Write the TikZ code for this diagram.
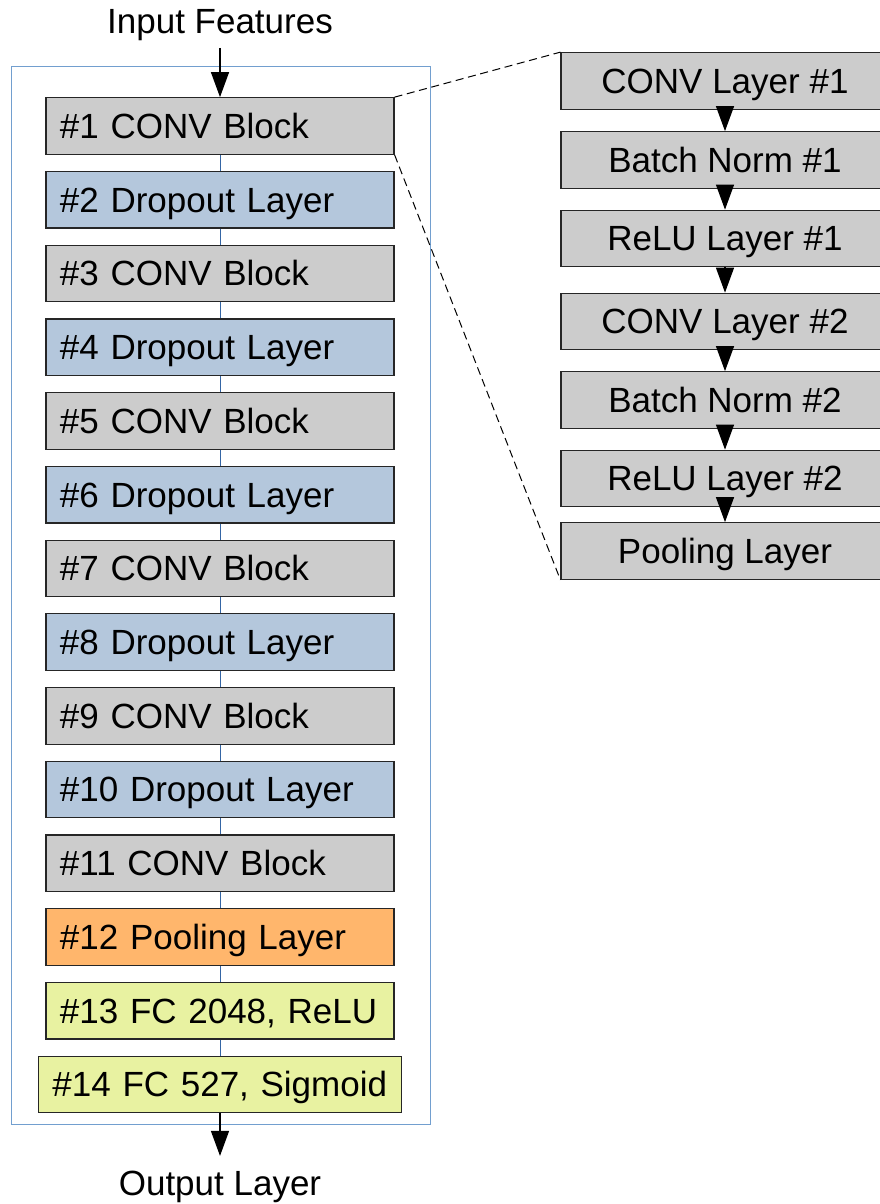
\documentclass[tikz,border=0pt]{standalone}
\usepackage{fontspec}
\setmainfont{Liberation Sans}
\usetikzlibrary{positioning,arrows.meta}
\definecolor{convgray}{HTML}{CCCCCC}
\definecolor{dropblue}{HTML}{B4C7DC}
\definecolor{poolorange}{HTML}{FFB66C}
\definecolor{fcgreen}{HTML}{E8F2A1}
\definecolor{frameblue}{HTML}{729FCF}
\definecolor{linkblue}{HTML}{3465A4}
\tikzset{
    txt/.style={font=\fontsize{26.25}{30}\selectfont},
    layer/.style={txt,draw=black!85,line width=0.9pt,minimum height=42.4pt,text width=240pt,
        inner xsep=10.5pt,inner ysep=2pt,align=left,text height=25.5pt,text depth=7pt},
    conv/.style={layer,fill=convgray},
    drop/.style={layer,fill=dropblue},
    pool/.style={layer,fill=poolorange},
    fc/.style={layer,fill=fcgreen},
    sub/.style={txt,draw=black!85,line width=0.9pt,fill=convgray,minimum height=42.4pt,minimum width=246pt,
        inner ysep=2pt,text height=25.5pt,text depth=7pt},
    arr/.style={-{Triangle[length=18.75pt,width=13.5pt]},line width=0.9pt},
    link/.style={linkblue,line width=0.75pt},
}

\begin{document}
\begin{tikzpicture}[x=0.75pt,y=-0.75pt,node distance=12pt]
        \useasboundingbox (0,0) rectangle (880,1204);
        \node[draw=frameblue,line width=0.75pt,minimum width=314.25pt,minimum height=793.5pt] (net) at (220.5,595) {};
        \node[txt,inner sep=0pt,anchor=base] (feat) at (220,33) {Input Features};
        \node[conv] (b1) at (220,126) {\#1 CONV Block};
        \node[drop,below=of b1] (b2) {\#2 Dropout Layer};
        \node[conv,below=of b2] (b3) {\#3 CONV Block};
        \node[drop,below=of b3] (b4) {\#4 Dropout Layer};
        \node[conv,below=of b4] (b5) {\#5 CONV Block};
        \node[drop,below=of b5] (b6) {\#6 Dropout Layer};
        \node[conv,below=of b6] (b7) {\#7 CONV Block};
        \node[drop,below=of b7] (b8) {\#8 Dropout Layer};
        \node[conv,below=of b8] (b9) {\#9 CONV Block};
        \node[drop,below=of b9] (b10) {\#10 Dropout Layer};
        \node[conv,below=of b10] (b11) {\#11 CONV Block};
        \node[pool,below=of b11] (b12) {\#12 Pooling Layer};
        \node[fc,below=of b12] (b13) {\#13 FC 2048, ReLU};
        \node[fc,text width=251.25pt,below=of b13] (b14) {\#14 FC 527, Sigmoid};
        \node[txt,inner sep=0pt,anchor=base] (outp) at (220,1195) {Output Layer};
        \node[sub] (r1) at (725,81) {CONV Layer \#1};
        \node[sub] (r2) at (725,160) {Batch Norm \#1};
        \node[sub] (r3) at (725,238.5) {ReLU Layer \#1};
        \node[sub] (r4) at (725,321.5) {CONV Layer \#2};
        \node[sub] (r5) at (725,400) {Batch Norm \#2};
        \node[sub] (r6) at (725,478.5) {ReLU Layer \#2};
        \node[sub] (r7) at (725,551) {Pooling Layer};
        \foreach \i [evaluate=\i as \j using int(\i+1)] in {1,...,13}
            \draw[link] (b\i.south) -- (b\j.north);
        \foreach \i [evaluate=\i as \j using int(\i+1)] in {1,...,6}
            \draw[arr] (r\i.south) -- (r\j.north);
        \draw[arr,shorten <=5.5pt] (feat.south) -- (b1.north);
        \draw[arr,shorten >=10.8pt] (b14.south) -- (outp.north);
        \draw[dashed,dash pattern=on 6pt off 3.5pt,line width=0.75pt] (b1.north east) -- (r1.north west);
        \draw[dashed,dash pattern=on 6pt off 3.5pt,line width=0.75pt] (b1.south east) -- (r7.south west);
    \end{tikzpicture}
\end{document}
